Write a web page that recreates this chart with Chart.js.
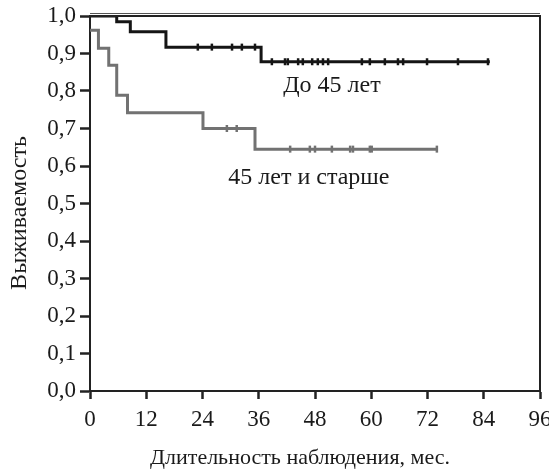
<!DOCTYPE html>
<html>
<head>
<meta charset="utf-8">
<script src="https://cdn.jsdelivr.net/npm/chart.js@4.4.1/dist/chart.umd.min.js"></script>
<style>
  html, body { margin: 0; padding: 0; background: #fff; }
  #wrap { width: 549px; height: 471px; }
</style>
</head>
<body>
<div id="wrap"><canvas id="km" width="549" height="471"></canvas></div>
<script>
// Kaplan–Meier survival, two age groups
const xTicks = [0, 12, 24, 36, 48, 60, 72, 84, 96];

// under 45: event times (months) and survival after each step
const youngTimes = [0, 5.7, 8.6, 16.2, 36.5, 85.3];
const youngSurv  = [1.0, 0.985, 0.958, 0.917, 0.878, 0.878];
const youngCensored = [23, 26, 30.3, 32.4, 35.2, 38.8, 41.6, 42.2, 44.4, 45.4, 47.4, 48.6,
                       49.7, 50.8, 58, 59.7, 62.9, 65.7, 66.8, 71.9, 78.5, 84.9];

// 45 and older
const oldTimes = [0, 1.8, 4.0, 5.7, 8.0, 24.1, 35.2, 74.0];
const oldSurv  = [0.962, 0.914, 0.869, 0.789, 0.742, 0.700, 0.645, 0.645];
const oldCensored = [29.2, 31.3, 42.7, 46.9, 48.0, 51.6, 55.5, 56.1, 59.7, 60.1, 74.0];

const youngLabel = 'До 45 лет';
const oldLabel = '45 лет и старше';
const xTitle = 'Длительность наблюдения, мес.';
const yTitle = 'Выживаемость';

const serif = '"Liberation Serif", "DejaVu Serif", serif';

function curve(times, surv) {
  return times.map((t, i) => ({ x: t, y: surv[i] }));
}
// survival value of a step curve at time t
function survAt(times, surv, t) {
  let s = surv[0];
  for (let i = 0; i < times.length; i++) if (times[i] <= t) s = surv[i];
  return s;
}
function marks(cens, times, surv) {
  return cens.map(t => ({ x: t, y: survAt(times, surv, t) }));
}

const frameAndLabels = {
  id: 'frameAndLabels',
  afterDatasetsDraw(chart) {
    const { ctx, chartArea: a, scales: { x, y } } = chart;
    ctx.save();
    // top (double) and right edges of the frame
    ctx.strokeStyle = '#222';
    ctx.lineWidth = 2;
    ctx.beginPath();
    ctx.moveTo(a.left, a.top);
    ctx.lineTo(a.right, a.top);
    ctx.lineTo(a.right, a.bottom);
    ctx.stroke();
    ctx.lineWidth = 1;
    ctx.strokeStyle = '#555';
    ctx.beginPath();
    ctx.moveTo(a.left, a.top - 2.5);
    ctx.lineTo(a.right, a.top - 2.5);
    ctx.stroke();
    // group captions
    ctx.fillStyle = '#1a1a1a';
    ctx.font = '24px ' + serif;
    ctx.textAlign = 'center';
    ctx.textBaseline = 'middle';
    ctx.fillText(youngLabel, x.getPixelForValue(51.6), y.getPixelForValue(0.813));
    ctx.fillText(oldLabel, x.getPixelForValue(46.7), y.getPixelForValue(0.568));
    // axis titles
    ctx.font = '22px ' + serif;
    ctx.fillText(xTitle, 300, 458);
    ctx.translate(20, 213);
    ctx.rotate(-Math.PI / 2);
    ctx.font = '24px ' + serif;
    ctx.fillText(yTitle, 0, 0);
    ctx.restore();
  }
};

new Chart(document.getElementById('km'), {
  type: 'line',
  data: {
    datasets: [
      {
        label: oldLabel,
        data: curve(oldTimes, oldSurv),
        stepped: true,
        borderColor: '#727272',
        borderWidth: 3,
        pointRadius: 0,
        fill: false
      },
      {
        label: oldLabel + ' (цензур.)',
        data: marks(oldCensored, oldTimes, oldSurv),
        showLine: false,
        pointStyle: 'line',
        rotation: 90,
        pointRadius: 3.5,
        borderColor: '#727272',
        borderWidth: 2.5
      },
      {
        label: youngLabel,
        data: curve(youngTimes, youngSurv),
        stepped: true,
        borderColor: '#151515',
        borderWidth: 3,
        pointRadius: 0,
        fill: false
      },
      {
        label: youngLabel + ' (цензур.)',
        data: marks(youngCensored, youngTimes, youngSurv),
        showLine: false,
        pointStyle: 'line',
        rotation: 90,
        pointRadius: 3.5,
        borderColor: '#151515',
        borderWidth: 2.5
      }
    ]
  },
  options: {
    responsive: false,
    animation: false,
    layout: { padding: { left: 0, right: 9, top: 16, bottom: 0 } },
    plugins: { legend: { display: false }, tooltip: { enabled: false } },
    scales: {
      x: {
        type: 'linear',
        min: 0,
        max: 96,
        afterBuildTicks(scale) { scale.ticks = xTicks.map(v => ({ value: v })); },
        afterFit(scale) { scale.height = 80; scale.paddingLeft = 0; scale.paddingRight = 0; },
        border: { color: '#222', width: 2 },
        grid: { drawOnChartArea: false, drawTicks: true, tickLength: 8, tickWidth: 2.5, tickColor: '#222' },
        ticks: { color: '#1a1a1a', font: { family: serif, size: 23 }, padding: 7, maxRotation: 0 }
      },
      y: {
        type: 'linear',
        min: 0,
        max: 1,
        afterFit(scale) { scale.width = 90; scale.paddingTop = 0; scale.paddingBottom = 0; },
        border: { color: '#222', width: 2 },
        grid: { drawOnChartArea: false, drawTicks: true, tickLength: 10, tickWidth: 2.5, tickColor: '#222' },
        ticks: {
          stepSize: 0.1,
          color: '#1a1a1a',
          font: { family: serif, size: 23 },
          padding: 4,
          callback: v => v.toFixed(1).replace('.', ',')
        }
      }
    }
  },
  plugins: [frameAndLabels]
});
</script>
</body>
</html>
